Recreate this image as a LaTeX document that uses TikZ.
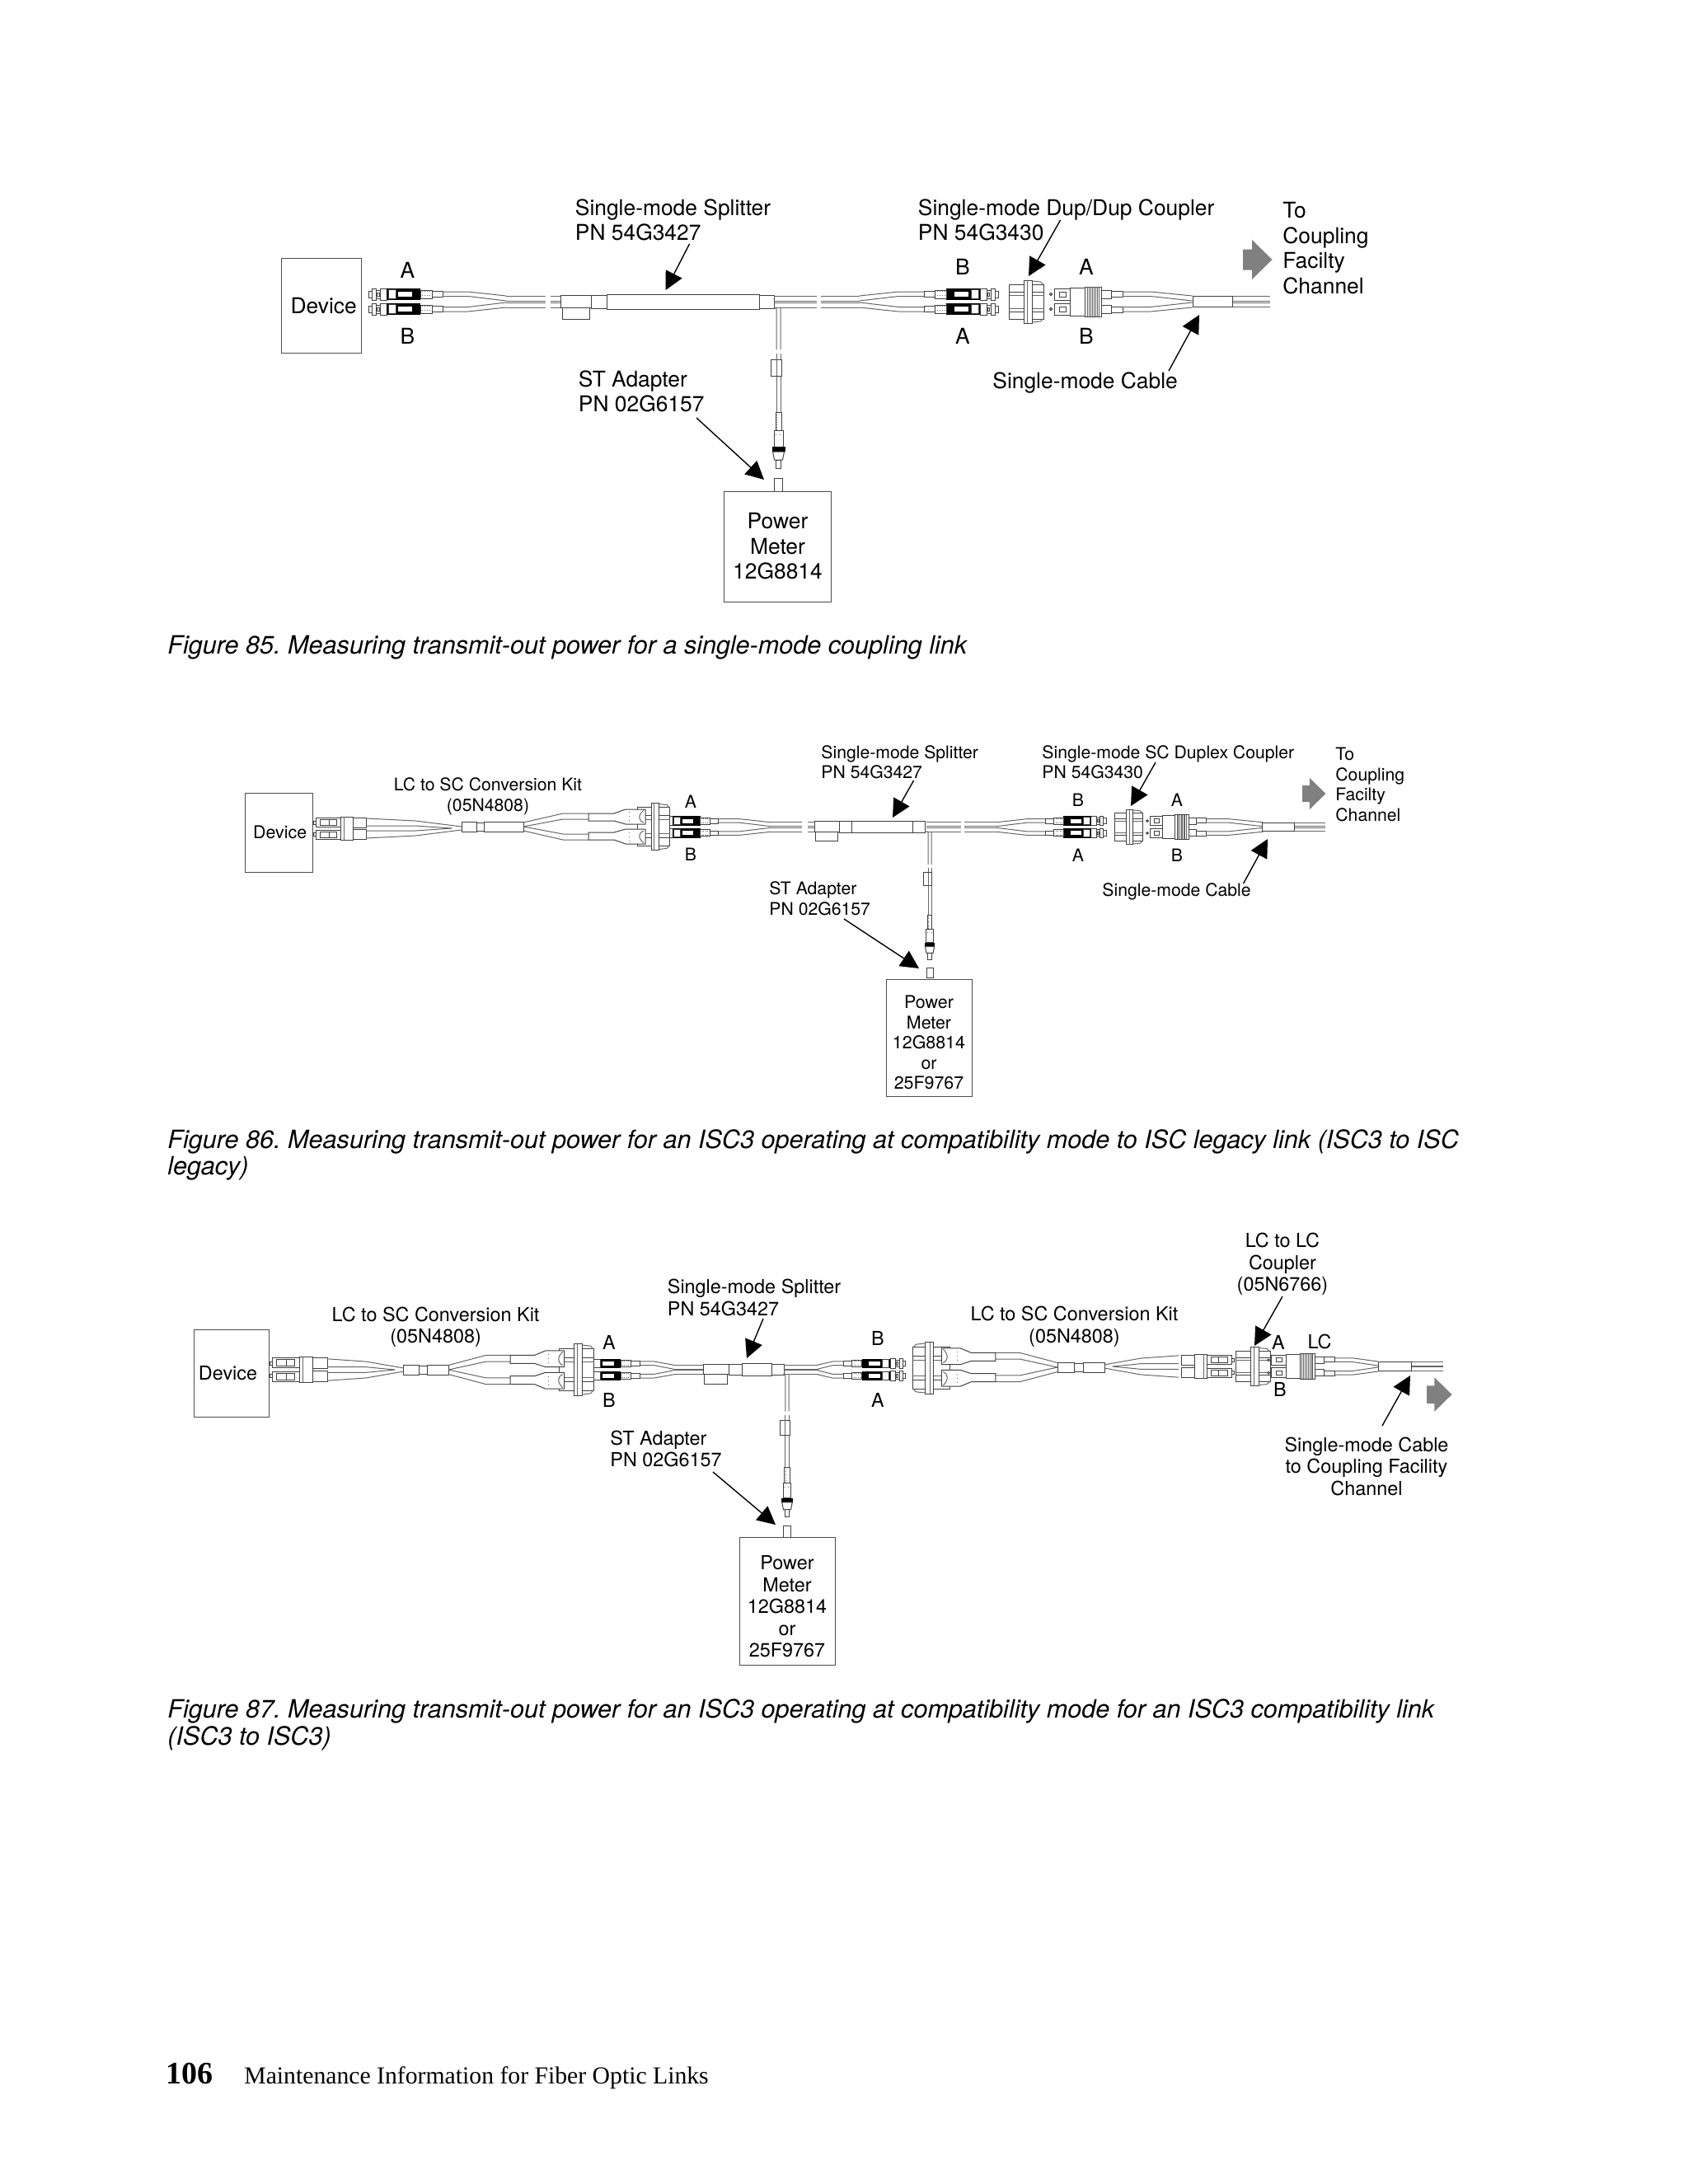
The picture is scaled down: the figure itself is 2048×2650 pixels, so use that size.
\documentclass[tikz,border=0pt]{standalone}
\usepackage{fontspec}
\setmainfont{TeX Gyre Heros}
\newfontfamily\footfont{Liberation Serif}
\usetikzlibrary{arrows.meta}
\frenchspacing

\tikzset{
	part/.style={draw=black!75, fill=white, line width=0.5pt},
	wire/.style={draw=black!60, line width=0.5pt},
	box/.style={draw=black!70, fill=white, line width=0.5pt, inner sep=0pt, align=center},
	pointer/.style={draw=black, line width=0.7pt, -{Triangle[length=11pt,width=11pt]}},
	largelab/.style={inner sep=0pt, align=left, font=\fontsize{13.2}{15.25}\selectfont},
	midlab/.style={inner sep=0pt, align=left, font=\fontsize{10.6}{12.25}\selectfont},
	biglab/.style={inner sep=0pt, align=left, font=\fontsize{11.7}{13.25}\selectfont},
	caplab/.style={inner sep=0pt, align=left, font=\fontsize{15.3}{16.2}\selectfont\itshape},
	pics/stplug/.style={code={
		\draw[part] (0,-4) rectangle (4,4);
		\draw[part] (4,-7) rectangle (9,7);
		\draw[part] (9,-5) rectangle (14,5);
		\draw[part] (10.5,-2) rectangle (13,2);
		\draw[part] (14,-7) rectangle (22,7);
		\fill[black] (22,-7) rectangle (63,7);
		\draw[part] (24,-5.5) rectangle (33,5.5);
		\fill[white] (36,-3) rectangle (53,3);
		\draw[part] (63,-5) rectangle (77,5);
		\foreach \rx in {65,68,71,74} \draw[wire, dotted] (\rx,-4) -- (\rx,4);
		\draw[part] (77,-3.5) rectangle (90,3.5);
	}},
	pics/stpair/.style={code={
		\pic[transform shape] at (0,-9) {stplug};
		\pic[transform shape] at (0,9) {stplug};
	}},
	pics/fanout/.style={code={
		\foreach \sgn in {-1,1} {
			\draw[wire] (0,\sgn*12) -- (31,\sgn*12) -- (77,\sgn*7);
			\draw[wire] (0,\sgn*6.5) -- (31,\sgn*6.5) -- (77,\sgn*1);
		}
	}},
	pics/trunk/.style={code={
		\foreach \ty in {-7,-1,1,7} \draw[wire] (0,\ty) -- (#1,\ty);
	}},
	pics/splitter/.style={code={
		\draw[part] (0,-8) rectangle (37,7);
		\draw[part] (2,7) rectangle (35,21);
		\draw[part] (37,-8) rectangle (56,8);
		\draw[part] (56,-9) rectangle (56+#1,9);
		\draw[part] (56+#1,-8) rectangle (74+#1,8);
	}},
	pics/sccoupler/.style={code={
		\draw[part] (0,-21) rectangle (42,-12);
		\draw[part] (0,-12) rectangle (42,12);
		\draw[part] (0,12) rectangle (42,21);
		\draw[wire] (0,-8) -- (42,-8) (0,8) -- (42,8);
		\draw[part] (18,-26) rectangle (28,26);
		\draw[wire] (22,-26) -- (22,26);
		\draw[wire] (28,-25) -- (38,-24) -- (41,-21) (28,25) -- (38,24) -- (41,21);
	}},
	pics/scplug/.style={code={
		\foreach \sgn in {-1,1} {
			\draw[part] (0,\sgn*9) circle (1.6);
			\draw[part] (4,\sgn*2) rectangle (23,\sgn*16);
			\draw[part] (10,\sgn*6) rectangle (18,\sgn*12);
			\draw[part] (61,\sgn*4) rectangle (73,\sgn*14);
			\draw[part] (73,\sgn*6) rectangle (87,\sgn*13);
		}
		\draw[part] (23,-17) rectangle (41,17);
		\draw[part] (41,-18) rectangle (61,18);
		\foreach \rx in {44,46,...,58} \draw[wire] (\rx,-18) -- (\rx,18);
	}},
	pics/cabletail/.style={code={
		\foreach \ty in {-6.5,-1,1,6.5} \draw[wire] (48,\ty) -- (94,\ty);
		\draw[part] (0,-6.5) rectangle (48,6.5);
	}},
	pics/grayarrow/.style={code={
		\fill[black!50] (0,-12.5) -- (11,-12.5) -- (11,-24) -- (35.5,0) -- (11,24) -- (11,12.5) -- (0,12.5) -- cycle;
	}},
	pics/stleg/.style={code={
		\draw[wire] (-5,-2) -- (-2.5,0) -- (-2.5,49) (2.5,-1) -- (2.5,49);
		\draw[wire] (-2.5,54) -- (-2.5,125) (2.5,54) -- (2.5,125);
		\draw[part] (-9.5,61) rectangle (3.5,81);
		\draw[wire] (-2.5,61) -- (-2.5,81);
		\draw[part] (-3.5,125) rectangle (3.5,147);
		\foreach \ry in {128,131,...,146} \draw[wire, dotted] (-2.5,\ry) -- (2.5,\ry);
		\draw[part] (-5.5,147) rectangle (5.5,167);
		\draw[wire, dotted] (-4,152) -- (4,152);
		\fill[black] (-8,167) rectangle (8,173);
		\draw[part] (-7,173) -- (7,173) -- (5,183) -- (-5,183) -- cycle;
		\draw[part] (-3,183) rectangle (3,193);
		\draw[part] (-5,205) rectangle (5,221);
	}},
	pics/lcend/.style={code={
		\foreach \sgn in {-1,1} {
			\draw[part] (0,\sgn*5) rectangle (3,\sgn*9);
			\draw[part] (3,\sgn*2) rectangle (33,\sgn*13);
			\draw[part] (8,\sgn*4) rectangle (19,\sgn*11);
			\draw[part] (19,\sgn*4) rectangle (28,\sgn*11);
			\draw[part] (48,\sgn*1) rectangle (64,\sgn*13);
		}
		\draw[part] (33,-14) rectangle (48,14);
		\draw[wire] (37,-14) -- (37,14);
	}},
	pics/lcfan/.style={code={
		\foreach \sgn in {-1,1} {
			\draw[wire] (0,\sgn*12) -- (60,\sgn*9) -- (116,\sgn*2);
			\draw[wire] (0,\sgn*3) -- (60,\sgn*3) -- (104,0);
		}
	}},
	pics/kitmid/.style={code={
		\draw[wire] (18,-3) -- (27,-3) (18,3) -- (27,3);
		\draw[part] (0,-6) rectangle (18,6);
		\draw[part] (18,-5) rectangle (27,5);
		\draw[part] (27,-6) rectangle (27+#1,6);
	}},
	pics/sckit/.style={code={
		\foreach \sgn in {-1,1} {
			\draw[wire] (0,\sgn*5) -- (48,\sgn*16) -- (79,\sgn*16);
			\draw[wire] (0,0) -- (48,\sgn*9) -- (79,\sgn*9);
			\draw[part] (79,\sgn*16) -- (110,\sgn*16) -- (124,\sgn*21) -- (148,\sgn*21) -- (148,\sgn*3) -- (124,\sgn*3) -- (110,\sgn*7) -- (79,\sgn*7) -- cycle;
			\draw[wire, dotted] (128,\sgn*7) -- (128,\sgn*18);
			\draw[wire] (146,\sgn*5) .. controls (139,\sgn*8) and (139,\sgn*14) .. (146,\sgn*20);
		}
	}},
}

\begin{document}
\begin{tikzpicture}[x=0.5pt, y=-0.5pt]
	\useasboundingbox (0, 0) rectangle (2048, 2650);
	% first figure
	\node[box, minimum width=48.5pt, minimum height=57.5pt, font=\fontsize{13.2}{15.25}\selectfont] (deviceA) at (389.7, 371) {\hspace*{3pt}Device};
	\pic at (447, 366) {stpair};
	\pic at (537, 366) {fanout};
	\pic at (614, 366) {trunk=48};
	\pic at (668, 366) {trunk=12};
	\pic at (680, 366) {splitter=185};
	\pic at (939, 366) {trunk=52};
	\pic at (996, 366) {trunk=47};
	\pic[xscale=-1.03] at (1122, 366) {fanout};
	\pic[xscale=-1] at (1211, 366) {stpair};
	\pic at (1224.5, 366) {sccoupler};
	\pic at (1275, 366) {scplug};
	\pic[xscale=1.1] at (1362, 366) {fanout};
	\pic at (1447, 366) {cabletail};
	\pic at (1508, 315) {grayarrow};
	\pic at (944.5, 375) {stleg};
	\node[box, minimum width=65pt, minimum height=67pt, font=\fontsize{13.2}{15.25}\selectfont] (meterA) at (943.5, 663) {Power\\Meter\\12G8814};

	\node[largelab, anchor=west] (splitlabA) at (697.5, 267) {Single-mode Splitter\\PN 54G3427};
	\node[largelab, anchor=west] (couplabA) at (1113.5, 267) {Single-mode Dup/Dup Coupler\\PN 54G3430};
	\node[largelab, anchor=west] (stlabA) at (701.5, 475) {ST Adapter\\PN 02G6157};
	\node[largelab, anchor=west] (cablabA) at (1204, 465) {Single-mode Cable};
	\node[largelab, anchor=west] (tolabA) at (1556, 301) {To\\Coupling\\Facilty\\Channel};
	\node[largelab] (aA) at (494.5, 328) {A};
	\node[largelab] (bA) at (494.5, 408) {B};
	\node[largelab] (bB) at (1168, 324) {B};
	\node[largelab] (aB) at (1168, 408) {A};
	\node[largelab] (aC) at (1318, 324) {A};
	\node[largelab] (bC) at (1318, 408) {B};

	\coordinate (splitfromA) at (836.5, 296);
	\coordinate (splittipA) at (807.6, 352);
	\coordinate (coupfromA) at (1286.6, 267);
	\coordinate (couptipA) at (1248, 335);
	\coordinate (cabfromA) at (1418, 450);
	\coordinate (cabtipA) at (1455, 382);
	\coordinate (stfromA) at (845, 507);
	\coordinate (sttipA) at (927, 582);
	\draw[pointer] (splitfromA) -- (splittipA);
	\draw[pointer] (coupfromA) -- (couptipA);
	\draw[pointer] (cabfromA) -- (cabtipA);
	\draw[pointer] (stfromA) -- (sttipA);

	\node[caplab, anchor=west] (captionA) at (203, 786) {Figure 85. Measuring transmit-out power for a single-mode coupling link};

	% second figure
	\node[box, minimum width=41pt, minimum height=48pt, font=\fontsize{10.7}{12.25}\selectfont] (deviceB) at (338, 1010) {\hspace*{1.7pt}Device};
	\pic at (380, 1005) {lcend};
	\pic at (444, 1005) {lcfan};
	\pic at (560, 1003) {kitmid=48};
	\pic[scale=0.82] at (798, 1003.5) {stpair};
	\pic[xscale=0.95, yscale=1.1] at (773, 1003) {sccoupler};
	\pic at (635, 1003) {sckit};
	\pic[scale=0.82] at (872, 1003.5) {fanout};
	\pic[yscale=0.82] at (935, 1003.5) {trunk=38};
	\pic[yscale=0.82] at (980, 1003.5) {trunk=8};
	\pic[scale=0.82] at (988, 1003.5) {splitter=90};
	\pic[yscale=0.82] at (1124, 1003.5) {trunk=42};
	\pic[yscale=0.82] at (1170, 1003.5) {trunk=39};
	\pic[xscale=-0.8, yscale=0.82] at (1270.6, 1003.5) {fanout};
	\pic[xscale=-0.82, yscale=0.82] at (1342, 1003.5) {stpair};
	\pic[scale=0.82] at (1352, 1003.5) {sccoupler};
	\pic[scale=0.82] at (1392, 1003.5) {scplug};
	\pic[xscale=0.9, yscale=0.82] at (1463, 1003.5) {fanout};
	\pic[scale=0.82] at (1531, 1003.5) {cabletail};
	\pic[scale=0.8] at (1580, 963) {grayarrow};
	\pic[scale=0.8] at (1128, 1010) {stleg};
	\node[box, minimum width=52pt, minimum height=71pt, font=\fontsize{10.7}{12.25}\selectfont] (meterB) at (1127, 1259) {\rule{0pt}{14pt}Power\\Meter\\12G8814\\or\\25F9767};

	\node[midlab, align=center] (kitlabB) at (592, 966.5) {LC to SC Conversion Kit\\(05N4808)};
	\node[midlab, anchor=west] (splitlabB) at (996, 925) {Single-mode Splitter\\PN 54G3427};
	\node[midlab, anchor=west] (couplabB) at (1264, 925) {Single-mode SC Duplex Coupler\\PN 54G3430};
	\node[midlab, anchor=west] (stlabB) at (933, 1090.5) {ST Adapter\\PN 02G6157};
	\node[midlab, anchor=west] (cablabB) at (1337, 1082) {Single-mode Cable};
	\node[midlab, anchor=west] (tolabB) at (1620, 952) {To\\Coupling\\Facilty\\Channel};
	\node[midlab] (aD) at (838, 973) {A};
	\node[midlab] (bD) at (838, 1037) {B};
	\node[midlab] (bE) at (1308, 971) {B};
	\node[midlab] (aE) at (1308, 1038) {A};
	\node[midlab] (aF) at (1428, 971) {A};
	\node[midlab] (bF) at (1428, 1038) {B};

	\coordinate (splitfromB) at (1108.6, 947);
	\coordinate (splittipB) at (1083, 992);
	\coordinate (coupfromB) at (1402, 925);
	\coordinate (couptipB) at (1372, 978);
	\coordinate (cabfromB) at (1508.6, 1072);
	\coordinate (cabtipB) at (1538, 1018);
	\coordinate (stfromB) at (1024, 1115);
	\coordinate (sttipB) at (1115, 1175);
	\draw[pointer] (splitfromB) -- (splittipB);
	\draw[pointer] (coupfromB) -- (couptipB);
	\draw[pointer] (cabfromB) -- (cabtipB);
	\draw[pointer] (stfromB) -- (sttipB);

	\node[caplab, anchor=west] (captionB) at (203, 1401.5) {Figure 86. Measuring transmit-out power for an ISC3 operating at compatibility mode to ISC legacy link (ISC3 to ISC\\legacy)};

	% third figure
	\node[box, minimum width=45.5pt, minimum height=53pt, font=\fontsize{11.7}{13.25}\selectfont] (deviceC) at (280.5, 1666) {Device\hspace*{4pt}};
	\pic[scale=1.1] at (327, 1662) {lcend};
	\pic[xscale=0.79, yscale=1.1] at (397, 1662) {lcfan};
	\pic[xscale=1.1] at (489, 1662) {kitmid=23};
	\pic[scale=0.84] at (700.5, 1662) {stpair};
	\pic[xscale=1, yscale=1.2] at (678.5, 1662) {sccoupler};
	\pic[xscale=0.95, yscale=1.1] at (544, 1662) {sckit};
	\pic[xscale=0.52, yscale=0.84] at (777, 1662) {fanout};
	\pic[yscale=0.84] at (817, 1662) {trunk=36};
	\pic[scale=0.84] at (853, 1662) {splitter=43};
	\pic[yscale=0.84] at (951, 1662) {trunk=42};
	\pic[xscale=-0.4, yscale=0.84] at (1023, 1662) {fanout};
	\pic[xscale=-0.84, yscale=0.84] at (1098.6, 1662) {stpair};
	\pic[xscale=-1.07, yscale=1.2] at (1152, 1660) {sccoupler};
	\pic[xscale=-0.95, yscale=1.1] at (1283, 1659) {sckit};
	\pic[xscale=1.15] at (1283, 1659) {kitmid=23};
	\pic[xscale=-0.77, yscale=1.1] at (1430, 1658) {lcfan};
	\pic[xscale=-1, yscale=1.05] at (1497, 1658) {lcend};
	\pic[xscale=1, yscale=0.9] at (1499, 1658) {sccoupler};
	\pic[xscale=0.93, yscale=0.85] at (1539, 1658) {scplug};
	\pic[xscale=0.68, yscale=0.85] at (1620, 1658) {fanout};
	\pic[xscale=0.84, yscale=0.85] at (1672, 1658) {cabletail};
	\pic[scale=0.86] at (1731, 1692) {grayarrow};
	\pic[scale=0.89] at (955, 1669) {stleg};
	\node[box, minimum width=58pt, minimum height=77.5pt, font=\fontsize{11.7}{13.25}\selectfont] (meterC) at (955, 1943) {\rule{0pt}{15pt}Power\\Meter\\12G8814\\or\\25F9767};

	\node[biglab, align=center] (kitlabC) at (528.6, 1610) {LC to SC Conversion Kit\\(05N4808)};
	\node[biglab, align=center] (kitlabD) at (1303.5, 1609.5) {LC to SC Conversion Kit\\(05N4808)};
	\node[biglab, align=center] (coupkitlabC) at (1556, 1534) {LC to LC\\Coupler\\(05N6766)};
	\node[biglab, anchor=west] (splitlabC) at (809.5, 1574.5) {Single-mode Splitter\\PN 54G3427};
	\node[biglab, anchor=west] (stlabC) at (740, 1758) {ST Adapter\\PN 02G6157};
	\node[biglab, align=center] (cablabC) at (1658, 1779) {Single-mode Cable\\to Coupling Facility\\Channel};
	\node[biglab] (aG) at (739, 1629) {A};
	\node[biglab] (bG) at (739, 1699) {B};
	\node[biglab] (bH) at (1065, 1624) {B};
	\node[biglab] (aH) at (1065, 1699) {A};
	\node[biglab] (aI) at (1551, 1629) {A};
	\node[biglab] (lcI) at (1601, 1628) {LC};
	\node[biglab] (bI) at (1553, 1686) {B};

	\coordinate (coupfromC) at (1556, 1573);
	\coordinate (couptipC) at (1522, 1633);
	\coordinate (splitfromC) at (926, 1600);
	\coordinate (splittipC) at (906, 1648);
	\coordinate (cabfromC) at (1677, 1730);
	\coordinate (cabtipC) at (1711, 1669);
	\coordinate (stfromC) at (865, 1786);
	\coordinate (sttipC) at (941, 1850);
	\draw[pointer] (coupfromC) -- (couptipC);
	\draw[pointer] (splitfromC) -- (splittipC);
	\draw[pointer] (cabfromC) -- (cabtipC);
	\draw[pointer] (stfromC) -- (sttipC);

	\node[caplab, anchor=west] (captionC) at (203, 2093) {Figure 87. Measuring transmit-out power for an ISC3 operating at compatibility mode for an ISC3 compatibility link\\(ISC3 to ISC3)};

	% page footer
	\node[anchor=base west, inner sep=0pt, font=\footfont\bfseries\fontsize{19}{21}\selectfont] (pageno) at (201, 2528) {106};
	\node[anchor=base west, inner sep=0pt, font=\footfont\fontsize{14.85}{16}\selectfont] (pagetitle) at (296, 2528) {Maintenance Information for Fiber Optic Links};
\end{tikzpicture}
\end{document}
